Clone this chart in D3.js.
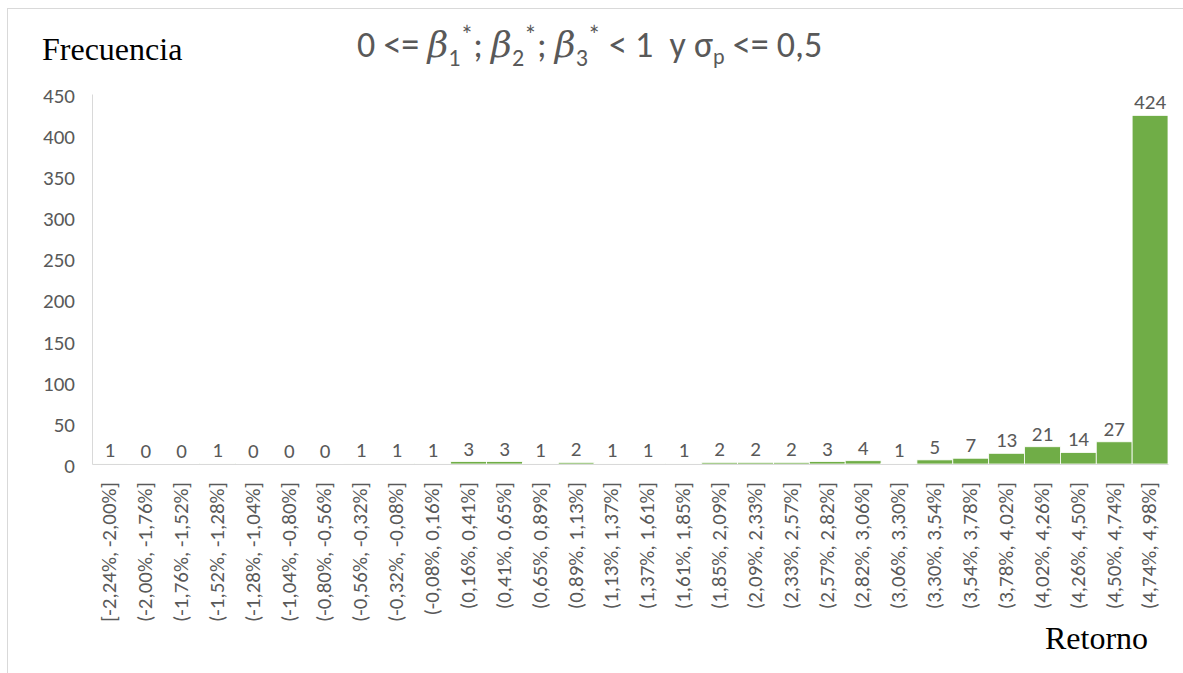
<!DOCTYPE html>
<html><head><meta charset="utf-8">
<script src="https://cdn.jsdelivr.net/npm/d3@7"></script>
<style>body{margin:0;background:#fff}svg{display:block}</style>
</head><body>
<script>
const categories = ["[-2,24%, -2,00%]","(-2,00%, -1,76%]","(-1,76%, -1,52%]","(-1,52%, -1,28%]","(-1,28%, -1,04%]","(-1,04%, -0,80%]","(-0,80%, -0,56%]","(-0,56%, -0,32%]","(-0,32%, -0,08%]","(-0,08%, 0,16%]","(0,16%, 0,41%]","(0,41%, 0,65%]","(0,65%, 0,89%]","(0,89%, 1,13%]","(1,13%, 1,37%]","(1,37%, 1,61%]","(1,61%, 1,85%]","(1,85%, 2,09%]","(2,09%, 2,33%]","(2,33%, 2,57%]","(2,57%, 2,82%]","(2,82%, 3,06%]","(3,06%, 3,30%]","(3,30%, 3,54%]","(3,54%, 3,78%]","(3,78%, 4,02%]","(4,02%, 4,26%]","(4,26%, 4,50%]","(4,50%, 4,74%]","(4,74%, 4,98%]"];
const values = [1,0,0,1,0,0,0,1,1,1,3,3,1,2,1,1,1,2,2,2,3,4,1,5,7,13,21,14,27,424];
const yTicks = [0,50,100,150,200,250,300,350,400,450];

const W = 1183, H = 673;
const mLeft = 92, mRight = 1168, mTop = 94, mBottom = 464;
const svg = d3.select("body").append("svg").attr("width", W).attr("height", H);

svg.append("rect").attr("x",7.5).attr("y",8.5).attr("width",1200).attr("height",700)
  .attr("fill","none").attr("stroke","#d9d9d9").attr("stroke-width",1);

const x = d3.scaleBand().domain(categories).range([mLeft, mRight]).padding(0);
const y = d3.scaleLinear().domain([0, 450]).range([mBottom, mTop]);

const tickFont = "Carlito, 'Open Sans', 'Liberation Sans', sans-serif";
const gray = "#595959";
const fs = 21;

// bars
svg.append("g").selectAll("rect").data(values).join("rect")
  .attr("x", (d,i) => x(categories[i]))
  .attr("width", x.bandwidth())
  .attr("y", d => y(d))
  .attr("height", d => y(0) - y(d))
  .attr("fill", "#70ad47")
  .attr("stroke", "#ffffff").attr("stroke-width", 0.8)
  .attr("display", d => d === 0 ? "none" : null);

// y axis
const yAxis = svg.append("g").attr("transform", `translate(${mLeft},0)`)
  .call(d3.axisLeft(y).tickValues(yTicks).tickSize(0).tickPadding(17));
yAxis.select(".domain").attr("stroke", "#d9d9d9");
yAxis.selectAll("text").attr("font-family", tickFont).attr("font-size", fs).attr("fill", gray).attr("dy","0.4em");

// x axis
const xAxis = svg.append("g").attr("transform", `translate(0,${mBottom})`)
  .call(d3.axisBottom(x).tickSize(0).tickPadding(0));
xAxis.select(".domain").attr("stroke", "#d9d9d9");
xAxis.selectAll("text")
  .attr("font-family", tickFont).attr("font-size", fs).attr("fill", gray)
  .attr("text-anchor", "end")
  .attr("transform", "translate(-1,18) rotate(-90)")
  .attr("x", 0).attr("y", 0).attr("dy", "0.35em");

// value labels
svg.append("g").selectAll("text").data(values).join("text")
  .attr("x", (d,i) => x(categories[i]) + x.bandwidth()/2)
  .attr("y", d => y(d) - 6)
  .attr("text-anchor", "middle")
  .attr("font-family", tickFont).attr("font-size", fs).attr("fill", gray)
  .text(d => d);

// y label
svg.append("text").attr("x", 42).attr("y", 60)
  .attr("font-family", "'Liberation Serif', 'Times New Roman', serif").attr("font-size", 32).attr("fill", "#000")
  .text("Frecuencia");

// x label
svg.append("text").attr("x", 1045).attr("y", 649)
  .attr("font-family", "'Liberation Serif', 'Times New Roman', serif").attr("font-size", 32).attr("fill", "#000")
  .text("Retorno");

// title
const t = svg.append("text").attr("x", 357).attr("y", 57)
  .attr("font-family", "Carlito, 'Open Sans', sans-serif").attr("font-weight", 300).attr("font-size", 36)
  .attr("fill", gray).attr("xml:space", "preserve").style("white-space", "pre");
function beta(sub, last) {
  t.append("tspan").attr("font-family","'DejaVu Serif', serif").attr("font-style","italic").text("β");
  t.append("tspan").attr("font-size",24).attr("dy",9).text(sub);
  t.append("tspan").attr("font-size",26).attr("dy",-22).text("*");
  t.append("tspan").attr("dy",13).text(last);
}
t.append("tspan").text("0 <= ");
beta("1", "; ");
beta("2", "; ");
beta("3", " < 1  y σ");
t.append("tspan").attr("font-size",22).attr("dy",7).text("p");
t.append("tspan").attr("dy",-7).text(" <= 0,5");
</script>
</body></html>
